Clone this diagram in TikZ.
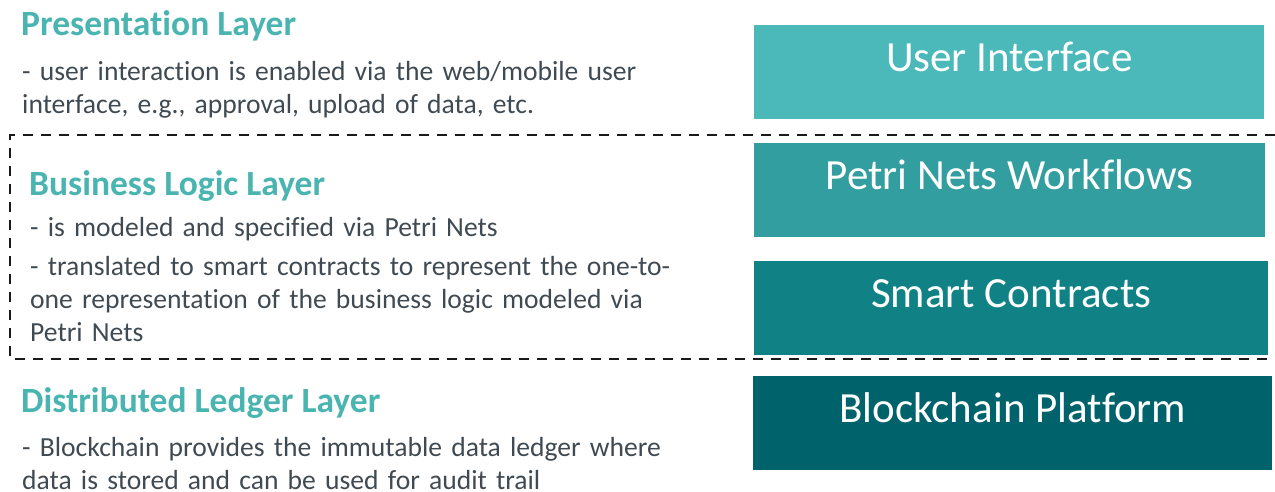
\documentclass[tikz,border=0pt]{standalone}
\usepackage{fontspec}
\setmainfont{Carlito}[Ligatures=NoCommon]
\usepackage{xcolor}

\definecolor{uiteal}{RGB}{75,184,186}
\definecolor{petriteal}{RGB}{51,158,159}
\definecolor{smartteal}{RGB}{16,130,133}
\definecolor{chainteal}{RGB}{0,99,108}
\definecolor{headteal}{RGB}{74,180,176}
\definecolor{bodygrey}{RGB}{64,74,82}

\tikzset{
  layerbox/.style={rectangle, anchor=north west, inner sep=0pt, minimum height=94pt,
    text height=46.5pt, text depth=47.5pt, text=white, font=\fontsize{43}{48}\selectfont},
  layerhead/.style={anchor=base west, inner sep=0pt, text=headteal,
    font=\fontsize{35.5}{40}\selectfont\bfseries},
  layertext/.style={anchor=base west, inner sep=0pt, text=bodygrey, align=left,
    text width=700pt, font=\fontsize{27.6}{33}\selectfont},
  layerframe/.style={line width=2.5pt, black!90, dash pattern=on 10pt off 8pt}
}

\begin{document}
\begin{tikzpicture}[x=1pt, y=-1pt]
    \useasboundingbox (0,0) rectangle (1275,491);

    \node[layerbox, fill=uiteal, minimum width=510pt] (ui) at (754,25) {User Interface};
    \node[layerbox, fill=petriteal, minimum width=511pt] (petri) at (754,143) {Petri Nets Workflows};
    \node[layerbox, fill=smartteal, minimum width=514pt] (smart) at (754,261) {Smart Contracts};
    \node[layerbox, fill=chainteal, minimum width=519pt] (chain) at (753,376) {Blockchain Platform};

    \draw[layerframe] (1275,135) -- (10,135) -- (10,359) -- (1275,359);

    \node[layerhead] (presHead) at (21,35) {Presentation Layer};
    \node[layertext] (presText) at (22,80) {- user interaction is enabled via the web/mobile user\\
        interface, e.g., approval, upload of data, etc.};

    \node[layerhead] (logicHead) at (29,195) {Business Logic Layer};
    \node[layertext] (logicText) at (30,236) {- is modeled and specified via Petri Nets\\[6pt]
        - translated to smart contracts to represent the one-to-\\
        one representation of the business logic modeled via\\
        Petri Nets};

    \node[layerhead] (ledgerHead) at (21,412) {Distributed Ledger Layer};
    \node[layertext] (ledgerText) at (22,456) {- Blockchain provides the immutable data ledger where\\
        data is stored and can be used for audit trail};
\end{tikzpicture}
\end{document}
